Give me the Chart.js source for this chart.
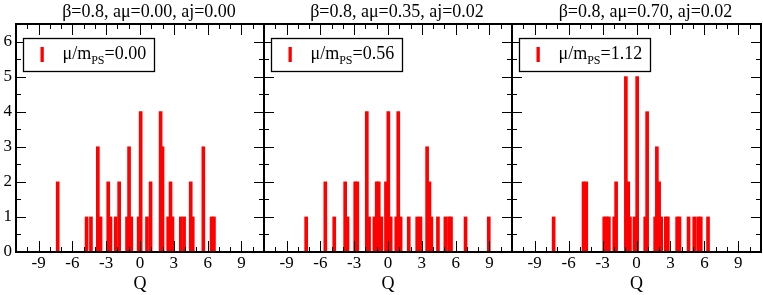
<!DOCTYPE html>
<html>
<head>
<meta charset="utf-8">
<script src="https://cdn.jsdelivr.net/npm/chart.js@4.4.1/dist/chart.umd.min.js"></script>
<style>
  body { margin: 0; background: #fff; }
  #wrap { position: relative; width: 763px; height: 295px; overflow: hidden; }
  canvas { position: absolute; top: 0; }
</style>
</head>
<body>
<div id="wrap">
  <canvas id="c1" width="266" height="295" style="left:0px"></canvas>
  <canvas id="c2" width="252" height="295" style="left:262px"></canvas>
  <canvas id="c3" width="253" height="295" style="left:510px"></canvas>
</div>
<script>
// --- Data: bar centres (Q) and counts for each panel ---
const Q1 = [-7.30, -4.74, -4.35, -3.74, -3.50, -2.82, -2.62, -2.15, -1.85, -1.15, -0.97, -0.77, -0.12, 0.06,
            0.62, 0.94, 1.83, 2.00, 2.50, 2.71, 2.88, 3.62, 3.91, 4.50, 4.68, 5.62, 6.35, 6.56];
const N1 = [2, 1, 1, 3, 1, 2, 1, 1, 2, 1, 3, 1, 1, 4,
            1, 2, 4, 3, 1, 2, 1, 1, 1, 2, 1, 3, 1, 1];

const Q2 = [-7.26, -5.56, -4.77, -3.80, -3.59, -2.91, -2.72, -1.88, -1.68, -1.21, -1.00, -0.82, -0.59, -0.18, 0.03,
            0.24, 0.73, 0.91, 1.12, 1.84, 2.59, 2.88, 3.47, 3.68, 3.85, 4.43, 5.09, 5.41, 5.59, 6.88, 8.94];
const N2 = [1, 2, 1, 2, 1, 2, 2, 4, 1, 1, 2, 2, 1, 2, 4,
            1, 1, 4, 1, 1, 1, 1, 3, 2, 1, 1, 1, 1, 1, 1, 1];

const Q3 = [-7.32, -4.68, -4.44, -2.85, -2.65, -2.44, -1.97, -1.80, -0.94, -0.73, -0.58, -0.18, 0.06, 0.77,
            0.94, 1.65, 1.80, 2.00, 2.18, 2.59, 2.77, 3.59, 3.80, 4.60, 5.10, 5.44, 5.68, 6.32];
const N3 = [1, 2, 2, 1, 1, 1, 1, 2, 5, 2, 1, 1, 5, 1,
            4, 1, 3, 2, 1, 1, 1, 1, 1, 1, 1, 1, 1, 1];

const X_TICKS = [-9, -6, -3, 0, 3, 6, 9];
const Y_TICKS = [0, 1, 2, 3, 4, 5, 6];
const TITLES = ['β=0.8, aμ=0.00, aj=0.00', 'β=0.8, aμ=0.35, aj=0.02', 'β=0.8, aμ=0.70, aj=0.02'];
const RATIOS = ['0.00', '0.56', '1.12'];

const SERIF = '"Liberation Serif", "DejaVu Serif", serif';
const RED = '#ff0000';

// --- plugin: frame, inward ticks, panel title, legend box ---
const framePlugin = {
    id: 'frame',
    afterDatasetsDraw(chart, args, opts) {
        const { ctx, chartArea: a, scales } = chart;
        const sx = scales.x, sy = scales.y;
        ctx.save();
        ctx.strokeStyle = '#000';

        // ticks on all four sides, pointing in
        ctx.lineWidth = 1;
        ctx.beginPath();
        for (let q = Math.ceil(sx.min); q <= sx.max; q++) {
            const px = Math.round(sx.getPixelForValue(q)) + 0.5;
            const len = q % 3 === 0 ? 11 : 5;
            ctx.moveTo(px, a.bottom); ctx.lineTo(px, a.bottom - len);
            ctx.moveTo(px, a.top); ctx.lineTo(px, a.top + len);
        }
        for (let v = 0.5; v < sy.max; v += 0.5) {
            const py = Math.round(sy.getPixelForValue(v)) + 0.5;
            const len = v % 1 === 0 ? 10 : 5;
            ctx.moveTo(a.left, py); ctx.lineTo(a.left + len, py);
            ctx.moveTo(a.right, py); ctx.lineTo(a.right - len, py);
        }
        ctx.stroke();

        // frame
        ctx.lineWidth = 2;
        ctx.strokeRect(a.left, a.top, a.right - a.left, a.bottom - a.top);

        // title
        ctx.fillStyle = '#000';
        ctx.font = '18px ' + SERIF;
        ctx.textAlign = 'center';
        ctx.textBaseline = 'alphabetic';
        ctx.fillText(opts.title, (a.left + a.right) / 2 + 9, 16.5);

        // legend
        const bx = Math.round(a.left + 7) + 0.5, by = 38.5;
        ctx.fillStyle = '#fff';
        ctx.fillRect(bx, by, 131, 33);
        ctx.lineWidth = 1.3;
        ctx.strokeRect(bx, by, 131, 33);
        ctx.fillStyle = RED;
        ctx.fillRect(bx + 17, by + 8.5, 3.3, 15);
        ctx.fillStyle = '#000';
        ctx.textAlign = 'left';
        let tx = bx + 39;
        const base = by + 20.5;
        ctx.font = '18px ' + SERIF;
        ctx.fillText('μ/m', tx, base);
        tx += ctx.measureText('μ/m').width;
        ctx.font = '12px ' + SERIF;
        ctx.fillText('PS', tx, base + 5);
        tx += ctx.measureText('PS').width;
        ctx.font = '18px ' + SERIF;
        ctx.fillText('=' + opts.ratio, tx, base);
        ctx.restore();
    }
};

function makePanel(id, qs, ns, idx, showY, padding) {
    const canvas = document.getElementById(id);
    return new Chart(canvas, {
        type: 'bar',
        data: {
            datasets: [{
                data: qs.map((q, i) => ({ x: q, y: ns[i] })),
                backgroundColor: RED,
                borderWidth: 0,
                barThickness: 3
            }]
        },
        options: {
            responsive: false,
            animation: false,
            layout: { padding: padding },
            plugins: {
                legend: { display: false },
                tooltip: { enabled: false },
                frame: { title: TITLES[idx], ratio: RATIOS[idx] }
            },
            scales: {
                x: {
                    type: 'linear',
                    min: -11, max: 11,
                    offset: false,
                    afterBuildTicks: s => { s.ticks = X_TICKS.map(v => ({ value: v })); },
                    afterFit: s => { s.height = 43; },
                    grid: { display: false, drawTicks: false },
                    border: { display: false },
                    ticks: { color: '#000', font: { family: SERIF, size: 17 }, padding: 1, maxRotation: 0, autoSkip: false },
                    title: { display: true, text: 'Q', color: '#000', font: { family: SERIF, size: 18 }, padding: 0 }
                },
                y: {
                    display: showY,
                    min: 0, max: 6.5,
                    afterBuildTicks: s => { s.ticks = Y_TICKS.map(v => ({ value: v })); },
                    afterFit: s => { s.width = showY ? 16 : 0; },
                    grid: { display: false, drawTicks: false },
                    border: { display: false },
                    ticks: { color: '#000', font: { family: SERIF, size: 17 }, padding: 4 }
                }
            }
        },
        plugins: [framePlugin]
    });
}

makePanel('c1', Q1, N1, 0, true, { top: 24, left: 0, right: 2, bottom: 0 });
makePanel('c2', Q2, N2, 1, false, { top: 24, left: 2, right: 2, bottom: 0 });
makePanel('c3', Q3, N3, 2, false, { top: 24, left: 2, right: 2, bottom: 0 });
</script>
</body>
</html>
